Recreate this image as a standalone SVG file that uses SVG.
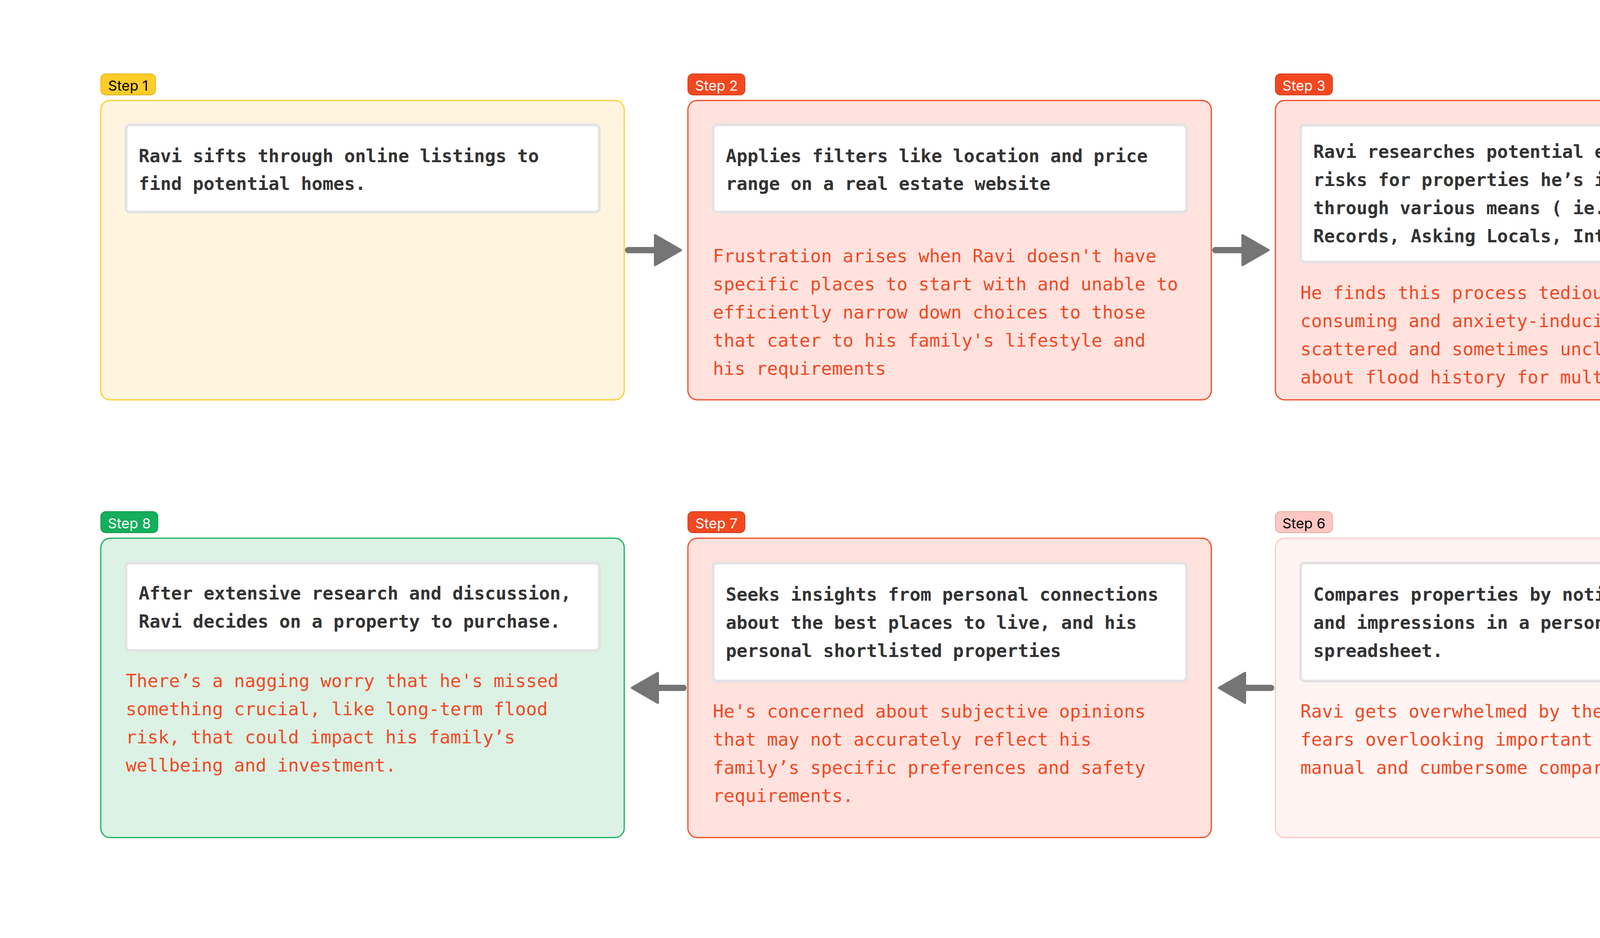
<svg xmlns="http://www.w3.org/2000/svg" width="6368" height="2400" viewBox="0 0 6368 2400">
<style>
.bg{fill:#FFFFFF}
.box{stroke-width:3}
.badge{stroke-width:2}
.btxt{font-family:Inter,"Noto Sans","Liberation Sans",sans-serif;font-size:36px;text-anchor:middle}
.card{fill:#FFFFFF;stroke:#E3E3E3;stroke-width:7}
.main{font-family:"DejaVu Sans Mono","Liberation Mono",monospace;font-size:46px;font-weight:bold;fill:#333333}
.note{font-family:"DejaVu Sans Mono","Liberation Mono",monospace;font-size:46px;fill:#F24822}
.yel .box{fill:#FFF5DF;stroke:#FFCD29}
.yel .badge{fill:#FFCD29;stroke:#E3B21F}
.yel .btxt{fill:#000000}
.red .box{fill:#FFE2DE;stroke:#F24822}
.red .badge{fill:#F24822;stroke:#D63E1C}
.red .btxt{fill:#FFFFFF}
.pink .box{fill:#FFF4F2;stroke:#FFC7C2}
.pink .badge{fill:#FFC7C2;stroke:#DFACA8}
.pink .btxt{fill:#000000}
.grn .box{fill:#DCF2E5;stroke:#14AE5C}
.grn .badge{fill:#14AE5C;stroke:#11994F}
.grn .btxt{fill:#FFFFFF}
.shaft{stroke:#757575;stroke-width:16;stroke-linecap:round;fill:none}
.head{fill:#757575;stroke:#757575;stroke-width:6;stroke-linejoin:round}
</style>
<rect class="bg" x="0" y="0" width="6368" height="2400"/>

<g id="step1" class="yel">
<rect class="badge" x="258" y="189" width="140" height="54" rx="13"/>
<text class="btxt" x="328" y="232">Step 1</text>
<rect class="box" x="258" y="257" width="1340" height="766" rx="24"/>
<rect class="card" x="322.5" y="319.5" width="1212" height="223" rx="10"/>
<text class="main" x="355"><tspan x="355" y="415">Ravi sifts through online listings to</tspan><tspan x="355" y="486">find potential homes.</tspan></text>
</g>

<g id="step2" class="red">
<rect class="badge" x="1761" y="189" width="146" height="54" rx="13"/>
<text class="btxt" x="1834" y="232">Step 2</text>
<rect class="box" x="1761" y="257" width="1340" height="766" rx="24"/>
<rect class="card" x="1825.5" y="319.5" width="1212" height="223" rx="10"/>
<text class="main"><tspan x="1858" y="415">Applies filters like location and price</tspan><tspan x="1858" y="486">range on a real estate website</tspan></text>
<text class="note"><tspan x="1825" y="671">Frustration arises when Ravi doesn't have</tspan><tspan x="1825" y="743">specific places to start with and unable to</tspan><tspan x="1825" y="815">efficiently narrow down choices to those</tspan><tspan x="1825" y="887">that cater to his family's lifestyle and</tspan><tspan x="1825" y="959">his requirements</tspan></text>
</g>

<g id="step3" class="red">
<rect class="badge" x="3265" y="189" width="146" height="54" rx="13"/>
<text class="btxt" x="3338" y="232">Step 3</text>
<rect class="box" x="3265" y="257" width="1340" height="766" rx="24"/>
<rect class="card" x="3329.5" y="320.5" width="1212" height="350" rx="10"/>
<text class="main"><tspan x="3362" y="404">Ravi researches potential environmental</tspan><tspan x="3362" y="476">risks for properties he’s interested in</tspan><tspan x="3362" y="548">through various means ( ie. Newspaper</tspan><tspan x="3362" y="620">Records, Asking Locals, Internet)</tspan></text>
<text class="note"><tspan x="3329" y="765">He finds this process tedious, time</tspan><tspan x="3329" y="837">consuming and anxiety-inducing due to</tspan><tspan x="3329" y="909">scattered and sometimes unclear information</tspan><tspan x="3329" y="981">about flood history for multiple places</tspan></text>
</g>

<g id="step4" class="pink">
<rect class="badge" x="4769" y="189" width="146" height="54" rx="13"/>
<text class="btxt" x="4842" y="232">Step 4</text>
<rect class="box" x="4769" y="257" width="1340" height="766" rx="24"/>
<rect class="card" x="4833.5" y="319.5" width="1212" height="223" rx="10"/>
<text class="main"><tspan x="4866" y="415">Contacts agents for more information and</tspan><tspan x="4866" y="486">to gain access to exclusive listings</tspan></text>
<text class="note"><tspan x="4833" y="639">He’s wary of their advice, questioning</tspan><tspan x="4833" y="711">whether they prioritize their sales</tspan><tspan x="4833" y="783">commission over his family’s best</tspan><tspan x="4833" y="855">interests.</tspan></text>
</g>

<g id="step5" class="pink">
<rect class="badge" x="4769" y="1309" width="146" height="54" rx="13"/>
<text class="btxt" x="4842" y="1352">Step 5</text>
<rect class="box" x="4769" y="1377" width="1340" height="766" rx="24"/>
<rect class="card" x="4833.5" y="1440.5" width="1212" height="222" rx="10"/>
<text class="main"><tspan x="4866" y="1534">Spends weekends visiting selected</tspan><tspan x="4866" y="1606">properties with his family.</tspan></text>
<text class="note"><tspan x="4833" y="1793">The effort becomes exhausting and</tspan><tspan x="4833" y="1865">disheartening when properties or locality</tspan><tspan x="4833" y="1937">don’t live up to the online portrayal or</tspan><tspan x="4833" y="2009">when they lack critical amenities or</tspan><tspan x="4833" y="2081">expectations</tspan></text>
</g>

<g id="step6" class="pink">
<rect class="badge" x="3265" y="1309" width="146" height="54" rx="13"/>
<text class="btxt" x="3338" y="1352">Step 6</text>
<rect class="box" x="3265" y="1377" width="1340" height="766" rx="24"/>
<rect class="card" x="3329.5" y="1440.5" width="1212" height="302" rx="10"/>
<text class="main"><tspan x="3362" y="1537">Compares properties by noting features</tspan><tspan x="3362" y="1609">and impressions in a personal</tspan><tspan x="3362" y="1681">spreadsheet.</tspan></text>
<text class="note"><tspan x="3329" y="1836">Ravi gets overwhelmed by the complexity and</tspan><tspan x="3329" y="1908">fears overlooking important details in this</tspan><tspan x="3329" y="1980">manual and cumbersome comparison process.</tspan></text>
</g>

<g id="step7" class="red">
<rect class="badge" x="1761" y="1309" width="146" height="54" rx="13"/>
<text class="btxt" x="1834" y="1352">Step 7</text>
<rect class="box" x="1761" y="1377" width="1340" height="766" rx="24"/>
<rect class="card" x="1825.5" y="1440.5" width="1212" height="302" rx="10"/>
<text class="main"><tspan x="1858" y="1537">Seeks insights from personal connections</tspan><tspan x="1858" y="1609">about the best places to live, and his</tspan><tspan x="1858" y="1681">personal shortlisted properties</tspan></text>
<text class="note"><tspan x="1825" y="1836">He's concerned about subjective opinions</tspan><tspan x="1825" y="1908">that may not accurately reflect his</tspan><tspan x="1825" y="1980">family’s specific preferences and safety</tspan><tspan x="1825" y="2052">requirements.</tspan></text>
</g>

<g id="step8" class="grn">
<rect class="badge" x="258" y="1309" width="146" height="54" rx="13"/>
<text class="btxt" x="331" y="1352">Step 8</text>
<rect class="box" x="258" y="1377" width="1340" height="766" rx="24"/>
<rect class="card" x="322.5" y="1440.5" width="1212" height="224" rx="10"/>
<text class="main"><tspan x="355" y="1534">After extensive research and discussion,</tspan><tspan x="355" y="1606">Ravi decides on a property to purchase.</tspan></text>
<text class="note"><tspan x="322" y="1758">There’s a nagging worry that he's missed</tspan><tspan x="322" y="1830">something crucial, like long-term flood</tspan><tspan x="322" y="1902">risk, that could impact his family’s</tspan><tspan x="322" y="1974">wellbeing and investment.</tspan></text>
</g>

<g id="connectors">
<path class="shaft" d="M1608 640 H1684"/>
<polygon class="head" points="1677,602 1743,640 1677,678"/>
<path class="shaft" d="M3111 640 H3188"/>
<polygon class="head" points="3181,602 3247,640 3181,678"/>
<path class="shaft" d="M4615 640 H4692"/>
<polygon class="head" points="4685,602 4751,640 4685,678"/>
<path class="shaft" d="M5439 1036 V1300"/>
<polygon class="head" points="5401,1294 5477,1294 5439,1357"/>
<path class="shaft" d="M4758 1760 H4684"/>
<polygon class="head" points="4691,1722 4625,1760 4691,1798"/>
<path class="shaft" d="M3254 1760 H3180"/>
<polygon class="head" points="3187,1722 3121,1760 3187,1798"/>
<path class="shaft" d="M1750 1760 H1677"/>
<polygon class="head" points="1684,1722 1618,1760 1684,1798"/>
</g>
</svg>
